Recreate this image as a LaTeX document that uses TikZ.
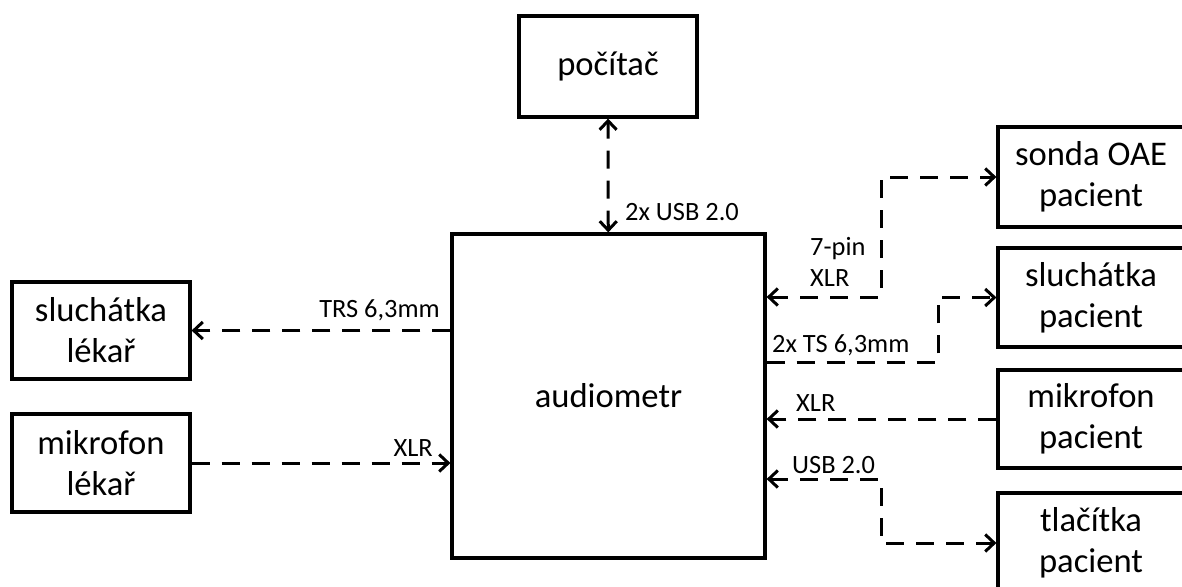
\documentclass[tikz,border=0pt]{standalone}
\usepackage{fontspec}
\setmainfont{Carlito}
\usetikzlibrary{arrows.meta}

\begin{document}
\begin{tikzpicture}
  [x=1pt, y=-1pt,
   box/.style={draw, line width=3.2pt, inner sep=0pt, align=center, font=\fontsize{34.6}{41}\selectfont},
   link/.style={line width=3pt, dash pattern=on 18pt off 12pt},
   lbl/.style={inner sep=0pt, font=\fontsize{26.4}{31}\selectfont},
   >={Straight Barb[length=9pt,width=17pt]}]
  \useasboundingbox (0,0) rectangle (1182,586);
  % boxes
  \node[box, minimum width=313pt, minimum height=324pt] (audio) at (608.5,396) {audiometr};
  \node[box, minimum width=178pt, minimum height=101pt] (pc) at (608,66.5) {počítač};
  \node[box, minimum width=178pt, minimum height=97pt] (sluchl) at (101,330.5) {sluchátka\\lékař};
  \node[box, minimum width=178pt, minimum height=98pt] (mikl) at (101,463) {mikrofon\\lékař};
  \node[box, minimum width=186pt, minimum height=100pt] (oae) at (1091,177) {sonda OAE\\pacient};
  \node[box, minimum width=186pt, minimum height=99pt] (sluchp) at (1091,297.5) {sluchátka\\pacient};
  \node[box, minimum width=186pt, minimum height=98pt] (mikp) at (1091,419) {mikrofon\\pacient};
  \node[box, minimum width=186pt, minimum height=100pt] (tlac) at (1091,543) {tlačítka\\pacient};
  % connections
  \draw[link, <->] (audio) -- (pc);
  \draw[link, ->] (audio.west |- sluchl) -- (sluchl);
  \draw[link, ->] (mikl) -- (audio.west |- mikl);
  \draw[link, <->] (audio.east |- 0,297) -- (881,297) |- (oae);
  \draw[link, ->] (audio.east |- 0,362) -- (938,362) |- (sluchp);
  \draw[link, ->] (mikp) -- (audio.east |- mikp);
  \draw[link, <->] (audio.east |- 0,479) -- (881,479) |- (tlac);
  % labels
  \node[lbl, anchor=west] (lusb) at (625,212) {2x USB 2.0};
  \node[lbl, anchor=east] (ltrs) at (440,310) {TRS 6,3mm};
  \node[lbl, anchor=east] (lxlrl) at (433,448) {XLR};
  \node[lbl, anchor=west, align=left] (lpin) at (810,262) {7-pin\\XLR};
  \node[lbl, anchor=west] (lts) at (772,345) {2x TS 6,3mm};
  \node[lbl, anchor=west] (lxlrp) at (796,403) {XLR};
  \node[lbl, anchor=west] (lusbp) at (792,465) {USB 2.0};
\end{tikzpicture}
\end{document}
